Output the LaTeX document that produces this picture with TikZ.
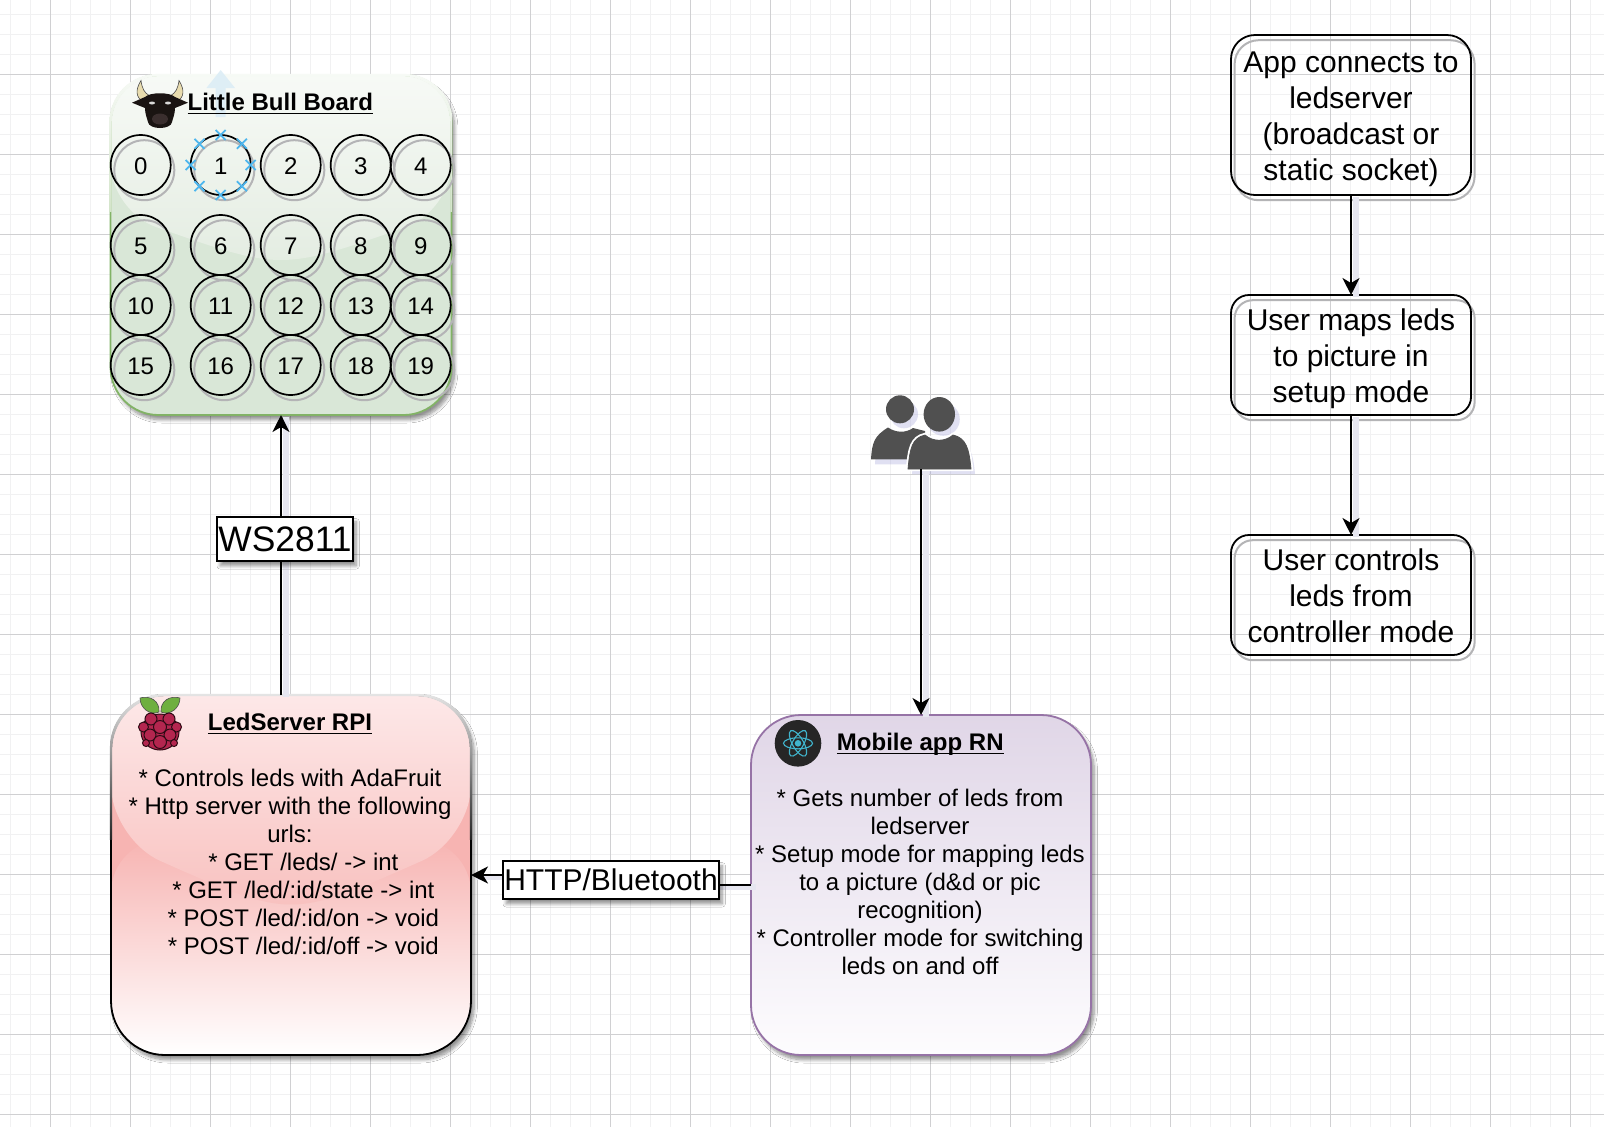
\documentclass[tikz,border=0pt]{standalone}
\usepackage{fontspec}
\setmainfont{Liberation Sans}
\usepackage{tikz}
\usetikzlibrary{arrows.meta,calc,shapes.misc,shadows.blur}

\definecolor{gridmajor}{HTML}{D0D0D2}
\definecolor{gridminor}{HTML}{F1F1F2}
\definecolor{boardbase}{HTML}{D9E7D7}
\definecolor{boardglosstop}{HTML}{F7FAF6}
\definecolor{boardglossend}{HTML}{E3ECE1}
\definecolor{boardline}{HTML}{82B366}
\definecolor{ledbase}{HTML}{F7B4B2}
\definecolor{ledglosstop}{HTML}{FDE8E8}
\definecolor{ledglossend}{HTML}{F8BFBD}
\definecolor{mobiletop}{HTML}{E0D6E7}
\definecolor{mobileend}{HTML}{FDFCFE}
\definecolor{mobileline}{HTML}{9673A6}
\definecolor{ringshade}{HTML}{B4B4B6}
\definecolor{lineshade}{HTML}{E6E6F0}
\definecolor{hovermark}{HTML}{4DB6EE}
\definecolor{hoverarrow}{HTML}{DCEDF6}
\definecolor{peoplegrey}{HTML}{505050}
\definecolor{reactcyan}{HTML}{40B4CC}
\definecolor{bullhead}{HTML}{1A1412}
\definecolor{bullmuzzle}{HTML}{3A2E2E}
\definecolor{bullhorn}{HTML}{E8DCAE}
\definecolor{berry}{HTML}{B4264F}
\definecolor{berryline}{HTML}{2E0A14}
\definecolor{leaf}{HTML}{6FAF3F}

% title with a heavier underline
\newcommand{\titleline}[1]{\setbox0\hbox{#1}\leavevmode\rlap{\rule[-2pt]{\wd0}{.8pt}}\box0}

% pale top part of a box outline
\newcommand{\glassedge}[4]{%
  \begin{scope}[even odd rule,rounded corners=#4]
    \clip ($(#1.north west)+(-1.1,-1.1)$) rectangle ($(#1.south east)+(1.1,1.1)$)
      ($(#1.north west)+(1.1,1.1)$) rectangle ($(#1.south east)+(-1.1,-1.1)$);
    \shade[sharp corners,top color=#2,bottom color=#3] ($(#1.north west)+(-2,-2)$) rectangle ($(#1.north east)!.4!(#1.south east)+(2,0)$);
  \end{scope}}

\tikzset{
  box shadow/.style={blur shadow={shadow xshift=1.6pt,shadow yshift=-2.4pt,shadow blur radius=1.6pt,shadow opacity=42,shadow blur steps=8}},
  ring shadow/.style={preaction={draw=ringshade,line width=1pt,transform canvas={shift={(1.8pt,-2.6pt)}}}},
  glass box/.style n args={5}{fill=#2,
    path picture={
      \coordinate (gl) at ($(path picture bounding box.north west)!.4!(path picture bounding box.south west)$);
      \coordinate (gr) at ($(path picture bounding box.north east)!.4!(path picture bounding box.south east)$);
      \shade[top color=#2,bottom color=#3] (gl) rectangle (path picture bounding box.south east);
      \shade[top color=#4,bottom color=#5] (path picture bounding box.north west) -- (path picture bounding box.north east)
        -- (gr) .. controls ($(gl)!.5!(gr)+(0,#1)$) .. (gl) -- cycle;
    }},
  main box/.style={rectangle,draw,line width=.9pt,inner sep=0pt,outer sep=0pt,box shadow},
  step box/.style={rectangle,draw,line width=.9pt,inner sep=0pt,outer sep=0pt,minimum width=120pt,ring shadow},
  step text/.style={font=\fontsize{15}{18}\selectfont,align=center,inner sep=0pt},
  led node/.style={circle,draw,line width=.85pt,minimum size=30pt,inner sep=0pt,outer sep=0pt,
    text height=9.6pt,text depth=0pt,font=\fontsize{12}{14}\selectfont,ring shadow},
  hover mark/.style={cross out,draw=hovermark,line width=.9pt,minimum size=5pt,inner sep=0pt,outer sep=0pt},
  box title/.style={font=\fontsize{12}{14}\selectfont\bfseries,inner sep=0pt},
  box text/.style={font=\fontsize{12}{14}\selectfont,align=center,inner sep=0pt},
  link label/.style={draw,fill=white,line width=.9pt,inner sep=0pt,outer sep=0pt,box shadow},
  link/.style={line width=.85pt,-{Stealth[length=8.5pt,width=8.5pt,inset=2.5pt]},
    preaction={draw=lineshade,line width=3pt,-,transform canvas={shift={(2.4pt,-1pt)}}}}
}

\begin{document}
\begin{tikzpicture}[x=.5pt,y=-.5pt,node distance=40pt]
  \useasboundingbox (0,0) rectangle (1604,1126);
  \fill[white] (0,0) rectangle (1604,1126);

  % background grid
  \begin{scope}
    \clip (0,0) rectangle (1604,1126);
    \draw[gridminor,line width=.7pt,step=10pt,shift={(10.7,14.3)}] (-40,1160) grid (1640,-40);
    \draw[gridmajor,line width=.6pt,step=40pt,shift={(50.7,74.3)}] (-160,1120) grid (1600,-160);
  \end{scope}

  % the three main boxes
  \node[main box,draw=boardline,rounded corners=24pt,minimum width=170.5pt,minimum height=170pt,
    glass box={60}{boardbase}{boardbase}{boardglosstop}{boardglossend}] (board) at (281,245) {};
  \node[main box,rounded corners=27pt,minimum width=180pt,minimum height=180pt,
    glass box={80}{ledbase}{white}{ledglosstop}{ledglossend}] (led) at (291,875) {};
  \node[main box,draw=mobileline,rounded corners=25pt,minimum width=170pt,minimum height=170pt,
    top color=mobiletop,bottom color=mobileend] (mobile) at (921,885) {};
  \glassedge{board}{boardglosstop}{boardline!35}{24pt}
  \glassedge{led}{black!10}{black!85}{27pt}

  % right column
  \node[step box,rounded corners=12pt,minimum height=80pt] (connect) at (1351,115) {};
  \node[step box,rounded corners=9pt,minimum height=60pt] (maps) at (1351,355) {};
  \node[step box,rounded corners=9pt,minimum height=60pt] (controls) at (1351,595) {};
  \node[step text] (connecttext) at (1351,119) {App connects to\\ledserver\\(broadcast or\\static socket)};
  \node[step text] (mapstext) at (1351,359) {User maps leds\\to picture in\\setup mode};
  \node[step text] (controlstext) at (1351,596) {User controls\\leds from\\controller mode};
  \draw[link] (connect) -- (maps);
  \draw[link] (maps) -- (controls);

  % people icon
  \coordinate (people) at (921,469);
  \begin{scope}[shift={(4,5)},opacity=.3,fill=black!40!blue!40!white]
    \fill (900,409.3) circle[radius=14];
    \fill (871,459.3) .. controls (872,443) and (874,436) .. (888,427.5) -- (925,430) -- (925,459.3) -- cycle;
    \fill (939.3,414.3) circle[radius=16.5];
    \fill (908,469) .. controls (910,448) and (912,438) .. (925,435) .. controls (933,442) and (945,442) .. (953,435)
      .. controls (966,438) and (969,448) .. (971,469) -- cycle;
  \end{scope}
  \fill[peoplegrey] (900,409.3) circle[radius=14];
  \fill[peoplegrey] (871,459.3) .. controls (872,443) and (874,436) .. (888,427.5) .. controls (896,433) and (906,433) .. (913,428)
    -- (925,431) -- (925,459.3) -- cycle;
  \filldraw[peoplegrey,preaction={draw=white,line width=2.2pt}] (908,469) .. controls (910,448) and (912,438) .. (925,435)
    .. controls (933,442) and (945,442) .. (953,435) .. controls (966,438) and (969,448) .. (971,469) -- cycle;
  \fill[peoplegrey] (939.3,414.3) ellipse[x radius=15.7,y radius=17.3];
  \draw[link] (people) -- (people |- mobile.north);

  % links
  \draw[link] (board.south |- led.north) -- node[link label,pos=.557,xshift=2pt,minimum width=68pt,minimum height=22pt,
    font=\fontsize{17.7}{20}\selectfont] (ws) {WS2811} (board.south);
  \draw[link] (mobile.west) -- (611,885) -- node[link label,minimum width=108pt,minimum height=19pt,
    font=\fontsize{15}{18}\selectfont] (http) {HTTP/Bluetooth} (611,875) -- (led.east);

  % hover arrow on the board
  \fill[hoverarrow,opacity=.9] (220.7,70) -- (235,88) -- (225.7,88) -- (225.7,117) -- (215.7,117) -- (215.7,88) -- (206.4,88) -- cycle;

  % leds
  \node[led node] (0) at (140.7,165) {0};
  \node[led node,right of=0] (1) {1};
  \node[led node,right of=1,node distance=35pt] (2) {2};
  \node[led node,right of=2,node distance=35pt] (3) {3};
  \node[led node,right of=3,node distance=30pt] (4) {4};
  \node[led node,below of=0] (5) {5};
  \node[led node,below of=1] (6) {6};
  \node[led node,below of=2] (7) {7};
  \node[led node,below of=3] (8) {8};
  \node[led node,below of=4] (9) {9};
  \node[led node,below of=5,node distance=30pt] (10) {10};
  \node[led node,below of=6,node distance=30pt] (11) {11};
  \node[led node,below of=7,node distance=30pt] (12) {12};
  \node[led node,below of=8,node distance=30pt] (13) {13};
  \node[led node,below of=9,node distance=30pt] (14) {14};
  \node[led node,below of=10,node distance=30pt] (15) {15};
  \node[led node,below of=11,node distance=30pt] (16) {16};
  \node[led node,below of=12,node distance=30pt] (17) {17};
  \node[led node,below of=13,node distance=30pt] (18) {18};
  \node[led node,below of=14,node distance=30pt] (19) {19};

  % selection marks round led 1
  \path (1.0) node[hover mark] (mark0) {} (1.45) node[hover mark] (mark1) {}
    (1.90) node[hover mark] (mark2) {} (1.135) node[hover mark] (mark3) {}
    (1.180) node[hover mark] (mark4) {} (1.225) node[hover mark] (mark5) {}
    (1.270) node[hover mark] (mark6) {} (1.315) node[hover mark] (mark7) {};

  % bull icon
  \filldraw[fill=bullhorn,draw=black!70,line width=.3pt] (141,80.5) .. controls (135,90) and (136,98) .. (143,101) -- (150,96) .. controls (144,93) and (142,88) .. cycle;
  \filldraw[fill=bullhorn,draw=black!70,line width=.3pt] (179,80.5) .. controls (185,90) and (184,98) .. (177,101) -- (170,96) .. controls (176,93) and (178,88) .. cycle;
  \fill[bullhead] (132,102.7) -- (145,97) .. controls (150,92) and (170,92) .. (175,97) -- (188,102.7) -- (175,108)
    .. controls (175,114) and (173,118) .. (172,122) .. controls (171,130) and (149,130) .. (148,122)
    .. controls (147,118) and (145,114) .. (145,108) -- cycle;
  \fill[bullmuzzle] (160,119) ellipse[x radius=8,y radius=5.5];
  \fill[black!15] (152,103) ellipse[x radius=3,y radius=1.5];
  \fill[black!15] (168,103) ellipse[x radius=3,y radius=1.5];

  % raspberry icon
  \filldraw[fill=leaf,draw=black!70,line width=.3pt] (159,712) .. controls (150,716) and (140,708) .. (140,698) .. controls (150,695) and (160,701) .. cycle;
  \filldraw[fill=leaf,draw=black!70,line width=.3pt] (161,712) .. controls (170,716) and (180,708) .. (180,698) .. controls (170,695) and (160,701) .. cycle;
  \begin{scope}[fill=berry,draw=berryline,line width=.5pt]
    \filldraw (160,732) ellipse[x radius=19,y radius=18];
    \filldraw (151,719) circle[radius=6];
    \filldraw (169,719) circle[radius=6];
    \filldraw (143.5,727) circle[radius=5];
    \filldraw (176.5,727) circle[radius=5];
    \filldraw (160,727) circle[radius=6.5];
    \filldraw (150,735) circle[radius=6];
    \filldraw (170,735) circle[radius=6];
    \filldraw (146,743) circle[radius=3.5];
    \filldraw (174,743) circle[radius=3.5];
    \filldraw (160,742) circle[radius=6.5];
  \end{scope}

  % react icon
  \fill[black!85] (798,743.3) circle[radius=23.3];
  \begin{scope}[reactcyan,line width=.55pt]
    \draw[rotate around={0:(798,743.3)}] (798,743.3) ellipse[x radius=14.5,y radius=5.5];
    \draw[rotate around={60:(798,743.3)}] (798,743.3) ellipse[x radius=14.5,y radius=5.5];
    \draw[rotate around={120:(798,743.3)}] (798,743.3) ellipse[x radius=14.5,y radius=5.5];
    \fill (798,743.3) circle[radius=3.3];
  \end{scope}

  % box texts
  \node[box title] (boardtitle) at (280.3,103.7) {\titleline{Little Bull Board}};
  \node[box title] (ledtitle) at (290,723.5) {\titleline{LedServer RPI}};
  \node[box title] (mobiletitle) at (920.3,744) {\titleline{Mobile app RN}};
  \node[box text] (ledtext) at (290,861.7) {* Controls leds with AdaFruit\\* Http server with the following\\urls:\\
    ~~~~* GET /leds/ -> int\\~~~~* GET /led/:id/state -> int\\~~~~* POST /led/:id/on -> void\\~~~~* POST /led/:id/off -> void};
  \node[box text] (mobiletext) at (920,882) {* Gets number of leds from\\ledserver\\* Setup mode for mapping leds\\
    to a picture (d\&d or pic\\recognition)\\* Controller mode for switching\\leds on and off};
\end{tikzpicture}
\end{document}
